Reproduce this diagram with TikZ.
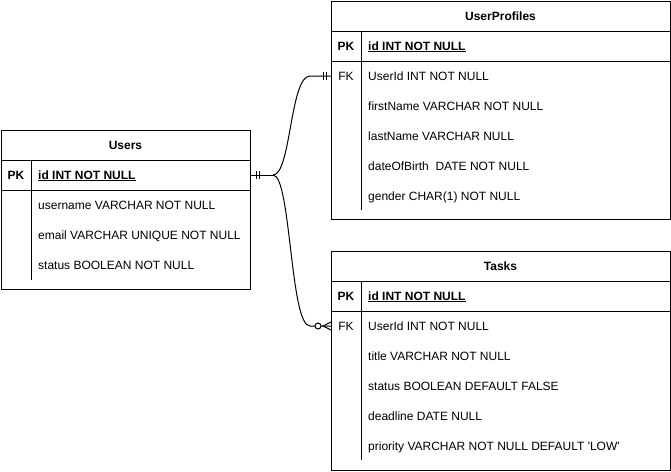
\documentclass[tikz,border=0pt]{standalone}
\usepackage{fontspec}
\setmainfont{Liberation Sans}
\usetikzlibrary{positioning}
\newcommand\erfont{\fontsize{12}{14}\selectfont}
\tikzset{
	tbl/.style={draw, line width=1pt, anchor=north west, inner sep=0pt},
	head/.style={font=\erfont\bfseries, text height=10pt, text depth=2pt, inner sep=0pt},
	key/.style={text height=10pt, text depth=2pt, inner sep=0pt},
	field/.style={anchor=west, text height=10pt, text depth=2pt, inner sep=0pt},
	pkfield/.style={field, font=\erfont\bfseries},
	conn/.style={line width=1pt},
}
\begin{document}
\begin{tikzpicture}[x=1pt,y=-1pt,font=\erfont]
	\useasboundingbox (0,0) rectangle (671,471);
	% Users
	\node[tbl, minimum width=249pt, minimum height=159pt] (users) at (1,130) {};
	\draw[conn] (1,160) -- (250,160) (1,190) -- (250,190) (31,160) -- (31,280);
	\node[head] (users-title) at (125.5,145) {Users};
	\node[head] (users-pkl) at (16,175) {PK};
	\node[pkfield] (users-pk) at (38,175) {\underline{id INT NOT NULL}};
	\node[field] (users-name) at (38,205) {username VARCHAR NOT NULL};
	\node[field] (users-mail) at (38,235) {email VARCHAR UNIQUE NOT NULL};
	\node[field] (users-stat) at (38,265) {status BOOLEAN NOT NULL};
	% UserProfiles
	\node[tbl, minimum width=339pt, minimum height=218pt] (prof) at (331,1) {};
	\draw[conn] (331,31) -- (670,31) (331,61) -- (670,61) (361,31) -- (361,210);
	\node[head] (prof-title) at (500.5,16) {UserProfiles};
	\node[head] (prof-pkl) at (346,46) {PK};
	\node[pkfield] (prof-pk) at (368,46) {\underline{id INT NOT NULL}};
	\node[key] (prof-fkl) at (346,76) {FK};
	\node[field] (prof-fk) at (368,76) {UserId INT NOT NULL};
	\node[field] (prof-first) at (368,106) {firstName VARCHAR NOT NULL};
	\node[field] (prof-last) at (368,136) {lastName VARCHAR NULL};
	\node[field] (prof-birth) at (368,166) {dateOfBirth~ DATE NOT NULL};
	\node[field] (prof-gender) at (368,196) {gender CHAR(1) NOT NULL};
	% Tasks
	\node[tbl, minimum width=339pt, minimum height=219pt] (task) at (331,251) {};
	\draw[conn] (331,281) -- (670,281) (331,311) -- (670,311) (361,281) -- (361,460);
	\node[head] (task-title) at (500.5,266) {Tasks};
	\node[head] (task-pkl) at (346,296) {PK};
	\node[pkfield] (task-pk) at (368,296) {\underline{id INT NOT NULL}};
	\node[key] (task-fkl) at (346,326) {FK};
	\node[field] (task-fk) at (368,326) {UserId INT NOT NULL};
	\node[field] (task-name) at (368,356) {title VARCHAR NOT NULL};
	\node[field] (task-stat) at (368,386) {status BOOLEAN DEFAULT FALSE};
	\node[field] (task-due) at (368,416) {deadline DATE NULL};
	\node[field] (task-prio) at (368,446) {priority VARCHAR NOT NULL DEFAULT \textquotesingle LOW\textquotesingle};
	% relations
	\coordinate (users-out) at (users.east |- users-pk);
	\coordinate (prof-in) at (prof.west |- prof-fk);
	\coordinate (task-in) at (task.west |- task-fk);
	\draw[conn] (users-out) -- ++(22,0) coordinate (fork);
	\draw[conn] (fork) .. controls +(18,0) and +(-20,0) .. ([xshift=-21pt]prof-in) -- (prof-in);
	\draw[conn] (fork) .. controls +(18,0) and +(-20,0) .. ([xshift=-21pt]task-in) -- (task-in);
	% one and only one
	\draw[conn] ([xshift=5pt]users-out) ++(0,-4) -- ++(0,8) ([xshift=8.5pt]users-out) ++(0,-4) -- ++(0,8);
	\draw[conn] ([xshift=-8pt]prof-in) ++(0,-4) -- ++(0,8) ([xshift=-4.5pt]prof-in) ++(0,-4) -- ++(0,8);
	% zero or many
	\draw[conn, fill=white] ([xshift=-13pt]task-in) circle (3);
	\draw[conn] ([yshift=4pt]task-in) -- ([xshift=-8pt]task-in) -- ([yshift=-4pt]task-in);
\end{tikzpicture}
\end{document}
